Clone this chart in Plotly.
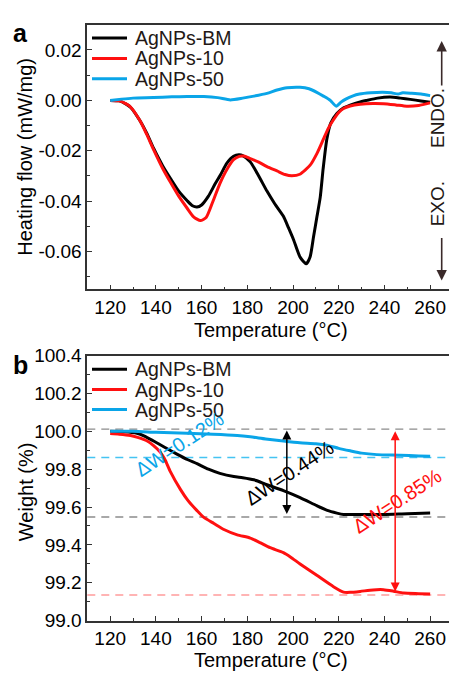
import plotly.graph_objects as go

# ---------------- DSC (panel a) ----------------
t_bm_dsc = [120, 124, 127, 129, 133, 136, 139, 143, 146.4, 150, 153.7, 156, 158, 160, 163, 166,
            168.3, 171, 174, 176.3, 178, 181.3, 185, 188.6, 192, 195.8, 198, 200.2, 203.1, 205.8,
            207.5, 209, 210.5, 211.9, 213.2, 214.8, 216.5, 219.2, 222, 225, 229, 232.3, 237,
            242.5, 247, 251.3, 256, 260]
hf_bm = [0.0, -0.0002, -0.0015, -0.0028, -0.008, -0.013, -0.019, -0.026, -0.031, -0.036, -0.0398,
         -0.0418, -0.0423, -0.0415, -0.038, -0.033, -0.0295, -0.025, -0.0222, -0.0216, -0.0219,
         -0.0244, -0.030, -0.036, -0.041, -0.046, -0.0505, -0.0552, -0.0622, -0.0648, -0.062,
         -0.054, -0.046, -0.0385, -0.027, -0.0154, -0.009, -0.0052, -0.003, -0.0019, -0.0007,
         0.0, 0.0009, 0.0013, 0.0009, 0.0004, -0.0002, -0.0007]

t_10_dsc = [120, 124, 127, 129, 133, 136, 139, 143, 146.4, 150, 153.7, 156.5, 159.5, 162, 165, 168,
            171, 174, 176.5, 178.5, 181.3, 185, 188.6, 193, 196.5, 199.5, 203, 207.5, 210.5,
            213.3, 215.5, 217.7, 220, 222.1, 225, 229.4, 235, 239.6, 245, 249.8, 255, 260]
hf_10 = [0.0, -0.0002, -0.0014, -0.0027, -0.008, -0.0135, -0.0195, -0.027, -0.0325, -0.038,
         -0.0428, -0.0462, -0.0477, -0.0465, -0.040, -0.033, -0.0275, -0.0235, -0.0222, -0.0221,
         -0.0231, -0.0245, -0.0263, -0.028, -0.0294, -0.0299, -0.0293, -0.0257, -0.021, -0.0154,
         -0.011, -0.0077, -0.0048, -0.0032, -0.0022, -0.0015, -0.0012, -0.0013, -0.0018,
         -0.0023, -0.002, -0.001]

t_50_dsc = [120, 125, 130, 139, 147, 153.7, 161, 167, 172.6, 178, 182.9, 188.6, 193, 197.4, 203.1,
            207, 210.4, 213.5, 216.3, 218.9, 221, 223.3, 226, 229.1, 234, 239.3, 243, 246, 248,
            252, 256, 260]
hf_50 = [0.0, 0.0005, 0.0009, 0.0011, 0.0014, 0.0015, 0.0015, 0.0011, 0.0002, 0.0009, 0.0017,
         0.0028, 0.0041, 0.0050, 0.0052, 0.0046, 0.0032, 0.0016, 0.0, -0.0023, -0.0007, 0.0006,
         0.0017, 0.0025, 0.0030, 0.0032, 0.0030, 0.0025, 0.0030, 0.0028, 0.0025, 0.0019]

# ---------------- TGA (panel b) ----------------
t_bm_tga = [120, 126, 131.7, 135, 139, 144, 149.2, 154, 158, 163, 168, 174.1, 178, 182.9, 188.6,
            195.8, 203.1, 210.4, 215, 219.2, 222.1, 230, 239.6, 250, 260]
w_bm = [100.0, 99.998, 99.99, 99.975, 99.949, 99.915, 99.88, 99.85, 99.829, 99.80, 99.778, 99.761,
        99.755, 99.744, 99.718, 99.687, 99.65, 99.607, 99.582, 99.568, 99.561, 99.561, 99.561,
        99.565, 99.568]

t_10_tga = [120, 124, 128.9, 132, 136.2, 139, 142, 144, 146.4, 150.8, 154, 158, 161, 165.4, 170,
            175.6, 181.3, 185.8, 190, 195.8, 199, 203.1, 210.4, 217.7, 222.1, 225, 229.4, 235,
            239.6, 244, 248.4, 255, 260]
w_10 = [99.988, 99.985, 99.978, 99.968, 99.949, 99.925, 99.889, 99.85, 99.786, 99.692, 99.635,
        99.581, 99.545, 99.513, 99.48, 99.453, 99.436, 99.41, 99.385, 99.359, 99.335, 99.299,
        99.239, 99.179, 99.15, 99.149, 99.154, 99.162, 99.163, 99.155, 99.145, 99.142, 99.14]

t_50_tga = [120, 130, 140, 153.7, 165, 175.6, 181.3, 188, 195.8, 203, 210, 214.8, 220, 225, 230,
            236.7, 246.9, 255, 260]
w_50 = [100.0, 100.0, 99.995, 99.99, 99.985, 99.978, 99.971, 99.96, 99.949, 99.94, 99.935, 99.927,
        99.91, 99.897, 99.885, 99.877, 99.874, 99.87, 99.868]

# reference levels (dashed) and mass-loss arrows
ref_levels = [100.012, 99.862, 99.547, 99.135]
ref_colors = ["#8c8c8c", "#45c4f2", "#8c8c8c", "#ff9c9c"]
dw_labels = ["\u0394W=0.12%", "\u0394W=0.44%", "\u0394W=0.85%"]
dw_label_t = [150.4, 198.3, 245.6]
dw_label_w = [99.933, 99.78, 99.63]
arrow_t = [197.3, 244.7]
arrow_top = [100.005, 100.0]
arrow_bottom = [99.555, 99.145]

names = ["AgNPs-BM", "AgNPs-10", "AgNPs-50"]
colors = ["#000000", "#ff1010", "#0aa5e8"]

x_ticks = [120, 140, 160, 180, 200, 220, 240, 260]
hf_ticks = [-0.06, -0.04, -0.02, 0.0, 0.02]
hf_ticktext = ["-0.06", "-0.04", "-0.02", "0.00", "0.02"]
w_ticks = [99.0, 99.2, 99.4, 99.6, 99.8, 100.0, 100.2, 100.4]
w_ticktext = ["99.0", "99.2", "99.4", "99.6", "99.8", "100.0", "100.2", "100.4"]

W, H = 449, 680
FONT = "Liberation Sans, Arial, sans-serif"
TXT = "#231815"


def px(x):
    return x / W


def py(y):
    return 1 - y / H


fig = go.Figure()

for t, v, n, c in zip([t_bm_dsc, t_10_dsc, t_50_dsc], [hf_bm, hf_10, hf_50], names, colors):
    fig.add_trace(go.Scatter(x=t, y=v, name=n, mode="lines", xaxis="x", yaxis="y",
                             line=dict(color=c, width=3, shape="spline", smoothing=0.6),
                             showlegend=False))

for t, v, n, c in zip([t_bm_tga, t_10_tga, t_50_tga], [w_bm, w_10, w_50], names, colors):
    fig.add_trace(go.Scatter(x=t, y=v, name=n, mode="lines", xaxis="x2", yaxis="y2",
                             line=dict(color=c, width=3, shape="spline", smoothing=0.6),
                             showlegend=False))

# dashed reference levels
for lvl, c in zip(ref_levels, ref_colors):
    fig.add_shape(type="line", xref="x2 domain", yref="y2", x0=0, x1=1, y0=lvl, y1=lvl,
                  line=dict(color=c, width=1.4, dash="8px,6px"), layer="below")

axis_common = dict(
    showgrid=False, zeroline=False, showline=True, linecolor="#333333", linewidth=1.6,
    ticks="inside", ticklen=5, tickwidth=1.4, tickcolor="#333333",
    tickfont=dict(family=FONT, size=19, color="#000000"),
)
x_common = dict(axis_common, range=[110, 268.25], tickvals=x_ticks, mirror=True,
                domain=[px(87.3), 1.0],
                minor=dict(dtick=10, tick0=110, ticks="inside", ticklen=3, tickcolor="#333333"))

fig.update_layout(
    width=W, height=H, margin=dict(l=0, r=0, t=0, b=0),
    paper_bgcolor="white", plot_bgcolor="white",
    font=dict(family=FONT, color="#000000"),
    showlegend=False,
    xaxis=dict(x_common, anchor="y"),
    yaxis=dict(axis_common, range=[-0.075, 0.0301], tickvals=hf_ticks, ticktext=hf_ticktext,
               domain=[py(288.3), py(15)], anchor="x",
               minor=dict(dtick=0.01, tick0=0, ticks="inside", ticklen=3, tickcolor="#333333")),
    xaxis2=dict(x_common, anchor="y2"),
    yaxis2=dict(axis_common, range=[99.0, 100.4], tickvals=w_ticks, ticktext=w_ticktext,
                domain=[py(630), py(356.7)], anchor="x2",
                minor=dict(dtick=0.1, tick0=99.0, ticks="inside", ticklen=3, tickcolor="#333333")),
)

ann = []
# legend key for each panel: swatch line + series name
for rows in ([29, 50, 71], [370.7, 391.7, 412.3]):
    for yc, n, c in zip(rows, names, colors):
        fig.add_shape(type="line", xref="paper", yref="paper", x0=px(92), x1=px(127),
                      y0=py(yc), y1=py(yc), line=dict(color=c, width=3))
        ann.append(dict(x=px(133), y=py(yc), xref="paper", yref="paper", text=n, showarrow=False,
                        xanchor="left", yanchor="middle", font=dict(size=19.5, color=TXT)))
# axis titles
for xc, yc, txt in [(270.8, 330, "Temperature (\u00b0C)"), (270.8, 670.5, "Temperature (\u00b0C)")]:
    ann.append(dict(x=px(xc), y=py(yc), xref="paper", yref="paper", text=txt, showarrow=False,
                    xanchor="center", yanchor="middle", font=dict(size=20, color="#000000")))
for yc, txt in [(152, "Heating flow (mW/mg)"), (497, "Weight (%)")]:
    ann.append(dict(x=px(25.5), y=py(yc), xref="paper", yref="paper", text=txt, showarrow=False,
                    textangle=-90, xanchor="center", yanchor="middle",
                    font=dict(size=20, color="#000000")))
# panel letters
for yc, txt in [(24, "a"), (366, "b")]:
    ann.append(dict(x=px(20), y=py(yc), xref="paper", yref="paper", text="<b>%s</b>" % txt,
                    showarrow=False, xanchor="center", yanchor="middle",
                    font=dict(size=25, color="#000000")))
# ENDO / EXO markers
for yc, txt in [(112, "ENDO."), (200, "EXO.")]:
    ann.append(dict(x=px(437.5), y=py(yc), xref="paper", yref="paper", text=txt, showarrow=False,
                    textangle=-90, xanchor="center", yanchor="middle",
                    font=dict(size=19, color=TXT)))
ann.append(dict(x=px(441.7), y=py(32), xref="paper", yref="paper", text="", showarrow=True,
                ax=0, ay=46, arrowhead=2, arrowsize=1.3, arrowwidth=1.6, arrowcolor="#3a2a2a"))
ann.append(dict(x=px(441.7), y=py(279), xref="paper", yref="paper", text="", showarrow=True,
                ax=0, ay=-44, arrowhead=2, arrowsize=1.3, arrowwidth=1.6, arrowcolor="#3a2a2a"))
# mass-loss labels
for t, w, txt, c in zip(dw_label_t, dw_label_w, dw_labels, ["#0aa5e8", "#000000", "#ff1010"]):
    ann.append(dict(x=t, y=w, xref="x2", yref="y2", text=txt, showarrow=False, textangle=-33,
                    xanchor="center", yanchor="middle", font=dict(size=20, color=c)))
# double-headed arrows spanning the mass loss
for t, top, bot, c in zip(arrow_t, arrow_top, arrow_bottom, ["#000000", "#ff1010"]):
    ann.append(dict(x=t, y=top, ax=t, ay=bot, xref="x2", yref="y2", axref="x2", ayref="y2",
                    text="", showarrow=True, arrowside="end+start", arrowhead=2, arrowsize=1.2,
                    arrowwidth=1.5, arrowcolor=c))

fig.update_layout(annotations=ann)
fig.write_html("out.html")
